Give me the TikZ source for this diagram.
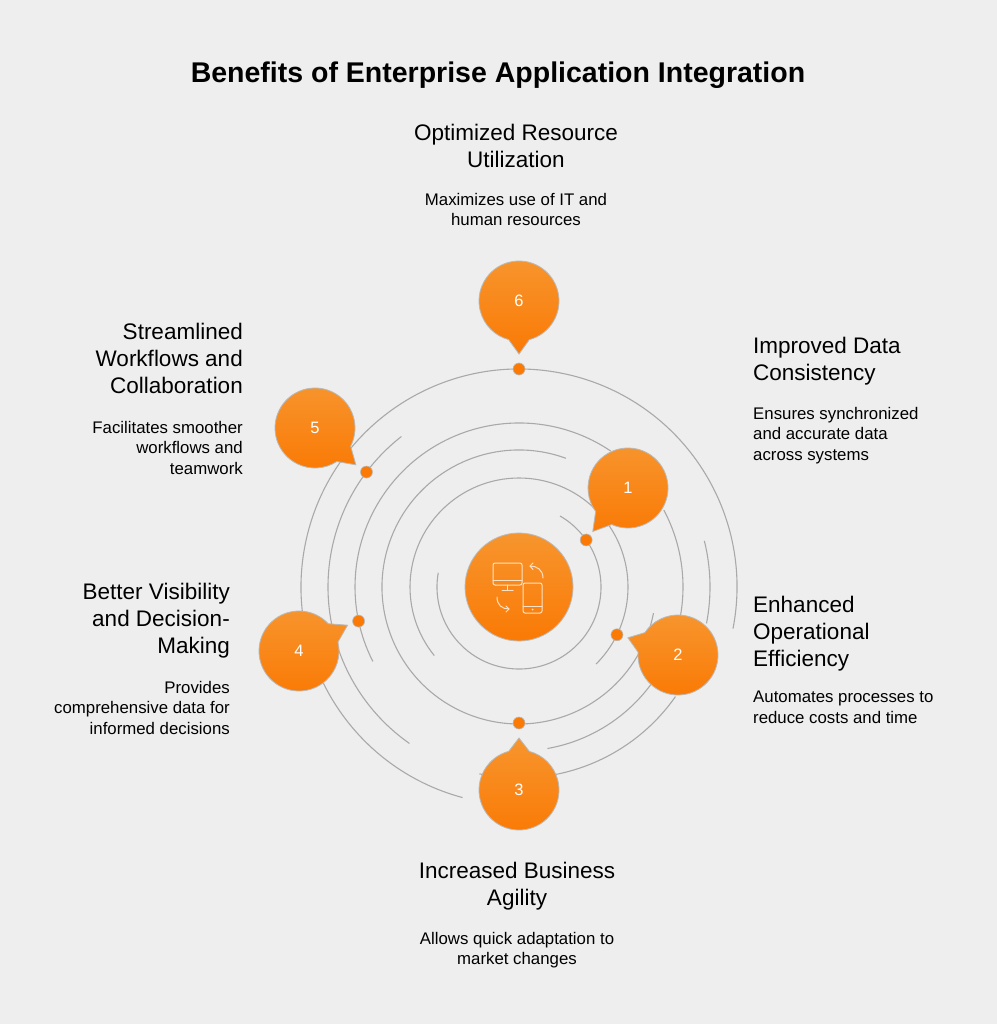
\documentclass[tikz,border=0pt]{standalone}
\usepackage{fontspec}
\setmainfont{Liberation Sans}
\usetikzlibrary{calc}
\definecolor{bg}{HTML}{EEEEEE}
\definecolor{orA}{HTML}{F7952E}
\definecolor{orB}{HTML}{FA7A05}
\definecolor{ring}{HTML}{A9A9A9}
\definecolor{icon}{HTML}{FFE2C4}
\tikzset{
 ringline/.style={draw=ring,line width=1.1pt},
 bub/.style={top color=orA,bottom color=orB,draw=ring!80,line width=0.8pt},
 dotst/.style={circle,fill=orB,draw=ring!80,line width=0.6pt,minimum size=12pt,inner sep=0pt},
 num/.style={text=white,font=\fontsize{16.5}{18}\selectfont},
 head/.style={font=\fontsize{22.5}{27}\selectfont,text=black,inner sep=0pt},
 desc/.style={font=\fontsize{16.8}{20.5}\selectfont,text=black,inner sep=0pt},
 iconl/.style={draw=icon,line width=1pt,line cap=round,line join=round}
}
\newcommand{\bubble}[6]{%
 \path[bub] ($(#2,-#3)+({#4+15}:40)$) arc[start angle={#4+15},end angle={#4+345},radius=40] -- ($(#2,-#3)+(#4:#5)$) -- cycle;
 \node[num] (#1) at (#2,-#3) {#6};}
\begin{document}
\begin{tikzpicture}[x=1pt,y=1pt]
\fill[bg] (0,0) rectangle (997,-1024);
\useasboundingbox (0,0) rectangle (997,-1024);
\coordinate (c) at (519,-587);
% rings
\draw[ringline] ($(c)+(170:82)$) arc[start angle=170,end angle=420,radius=82];
\draw[ringline] ($(c)+(-45:109)$) arc[start angle=-45,end angle=219,radius=109];
\draw[ringline] ($(c)+(70:137)$) arc[start angle=70,end angle=349,radius=137];
\draw[ringline] ($(c)+(56:164)$) arc[start angle=56,end angle=207,radius=164];
\draw[ringline] ($(c)+(280:164)$) arc[start angle=280,end angle=388,radius=164];
\draw[ringline] ($(c)+(128:191)$) arc[start angle=128,end angle=235,radius=191];
\draw[ringline] ($(c)+(258:191)$) arc[start angle=258,end angle=325,radius=191];
\draw[ringline] ($(c)+(-11:191)$) arc[start angle=-11,end angle=14,radius=191];
\draw[ringline] ($(c)+(-11:218)$) arc[start angle=-11,end angle=255,radius=218];
% dots
\node[dotst] (d6) at ($(c)+(90:218)$) {};
\node[dotst] (d5) at ($(c)+(143:191)$) {};
\node[dotst] (d1) at ($(c)+(35:82)$) {};
\node[dotst] (d2) at ($(c)+(-26:109)$) {};
\node[dotst] (d3) at ($(c)+(270:136)$) {};
\node[dotst] (d4) at ($(c)+(192:164)$) {};
% bubbles
\bubble{b6}{519}{301}{-90}{53}{6}
\bubble{b5}{315}{428}{-42}{55}{5}
\bubble{b1}{628}{488}{-129}{56}{1}
\bubble{b2}{678}{655}{161}{53}{2}
\bubble{b3}{519}{790}{90}{52}{3}
\bubble{b4}{299}{651}{28}{55}{4}
% center
\node[circle,minimum size=108pt,inner sep=0pt,top color=orA,bottom color=orB,draw=ring!80,line width=0.8pt] (ctr) at (c) {};
\draw[iconl,rounded corners=2pt] (493,-563) rectangle (522,-585);
\draw[iconl] (493,-580) -- (522,-580);
\draw[iconl] (507.5,-585) -- (507.5,-590) (502,-590) -- (513,-590);
\draw[iconl,rounded corners=2pt] (523,-583) rectangle (542,-613);
\draw[iconl] (523,-606) -- (542,-606);
\fill[icon] (532.5,-609.5) circle (1pt);
\draw[iconl] (543,-578) .. controls (543,-570) and (537,-566) .. (530,-566);
\draw[iconl] (533,-563) -- (530,-566) -- (533,-569.5);
\draw[iconl] (497,-597) .. controls (497,-605) and (502,-609) .. (509,-609);
\draw[iconl] (506,-606) -- (509,-609) -- (506,-612);
% texts
\node[font=\bfseries\fontsize{28.5}{32}\selectfont] (title) at (498,-75) {Benefits of Enterprise Application Integration};
\node[head,align=center,anchor=north] (h6) at (516,-124) {Optimized Resource\\Utilization};
\node[desc,align=center,anchor=north] (t6) at (516,-193) {Maximizes use of IT and\\human resources};
\node[head,align=left,anchor=north west] (h1) at (753,-337) {Improved Data\\Consistency};
\node[desc,align=left,anchor=north west] (t1) at (753,-407) {Ensures synchronized\\and accurate data\\across systems};
\node[head,align=left,anchor=north west] (h2) at (753,-596) {Enhanced\\Operational\\Efficiency};
\node[desc,align=left,anchor=north west] (t2) at (753,-691) {Automates processes to\\reduce costs and time};
\node[head,align=center,anchor=north] (h3) at (517,-862) {Increased Business\\Agility};
\node[desc,align=center,anchor=north] (t3) at (517,-932) {Allows quick adaptation to\\market changes};
\node[head,align=right,anchor=north east] (h4) at (230,-583) {Better Visibility\\and Decision-\\Making};
\node[desc,align=right,anchor=north east] (t4) at (230,-681) {Provides\\comprehensive data for\\informed decisions};
\node[head,align=right,anchor=north east] (h5) at (243,-323) {Streamlined\\Workflows and\\Collaboration};
\node[desc,align=right,anchor=north east] (t5) at (243,-421) {Facilitates smoother\\workflows and\\teamwork};
\end{tikzpicture}
\end{document}
